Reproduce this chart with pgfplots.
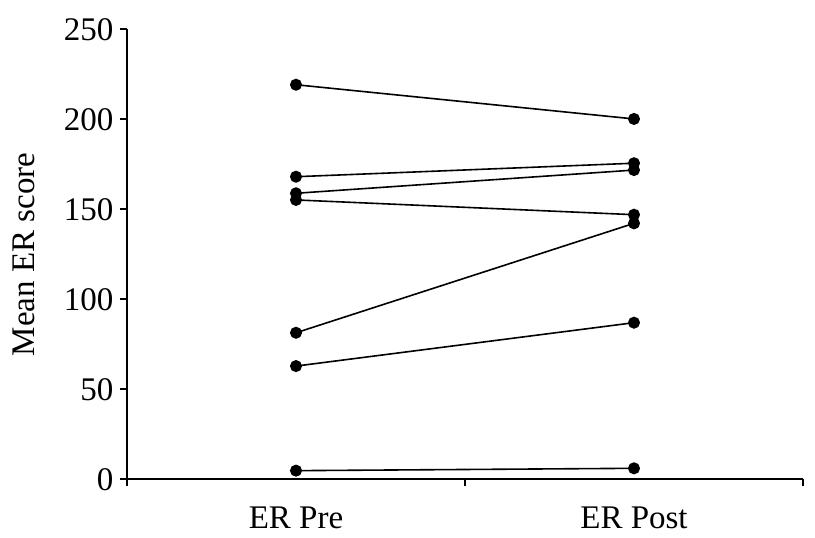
\documentclass[border=0pt]{standalone}
\usepackage{pgfplots}
\pgfplotsset{compat=1.18}
\usepackage{fontspec}
\setmainfont{Liberation Serif}
\tikzset{pp/.style={black, line width=1.6pt, mark=*, mark size=5.2pt, mark options={solid, fill=black}}}
\begin{document}
\begin{tikzpicture}
\path[use as bounding box] (-127pt,-58.7pt) rectangle (688pt,479.3pt);
\begin{axis}[
  at={(0,0)}, anchor=south west,
  scale only axis, width=676pt, height=450pt,
  xmin=0, xmax=2, ymin=0, ymax=250,
  axis x line=bottom, axis y line=left,
  axis line style={line width=1.8pt,-},
  xtick={0,1,2}, xticklabels={},
  extra x ticks={0.5,1.5},
  extra x tick labels={ER Pre, ER Post},
  extra x tick style={major tick length=0pt, tick label style={yshift=-24pt}},
  ytick={0,50,100,150,200,250},
  tick align=outside, major tick length=7pt,
  tick style={line width=1.8pt, black},
  /pgf/number format/assume math mode=true,
  tick label style={font=\fontsize{33}{40}\selectfont},
  yticklabel style={xshift=-3pt},
  ylabel={Mean ER score},
  ylabel style={at={(axis description cs:-0.1361,0.5)}, anchor=base, rotate=0, font=\fontsize{33}{40}\selectfont},
  clip=false,
]
\addplot[pp] coordinates {(0.5,219.2) (1.5,200.2)};
\addplot[pp] coordinates {(0.5,168.1) (1.5,175.6)};
\addplot[pp] coordinates {(0.5,158.9) (1.5,171.8)};
\addplot[pp] coordinates {(0.5,155.2) (1.5,147.0)};
\addplot[pp] coordinates {(0.5,81.4) (1.5,142.2)};
\addplot[pp] coordinates {(0.5,62.9) (1.5,87.0)};
\addplot[pp] coordinates {(0.5,4.8) (1.5,6.1)};
\end{axis}
\end{tikzpicture}
\end{document}
